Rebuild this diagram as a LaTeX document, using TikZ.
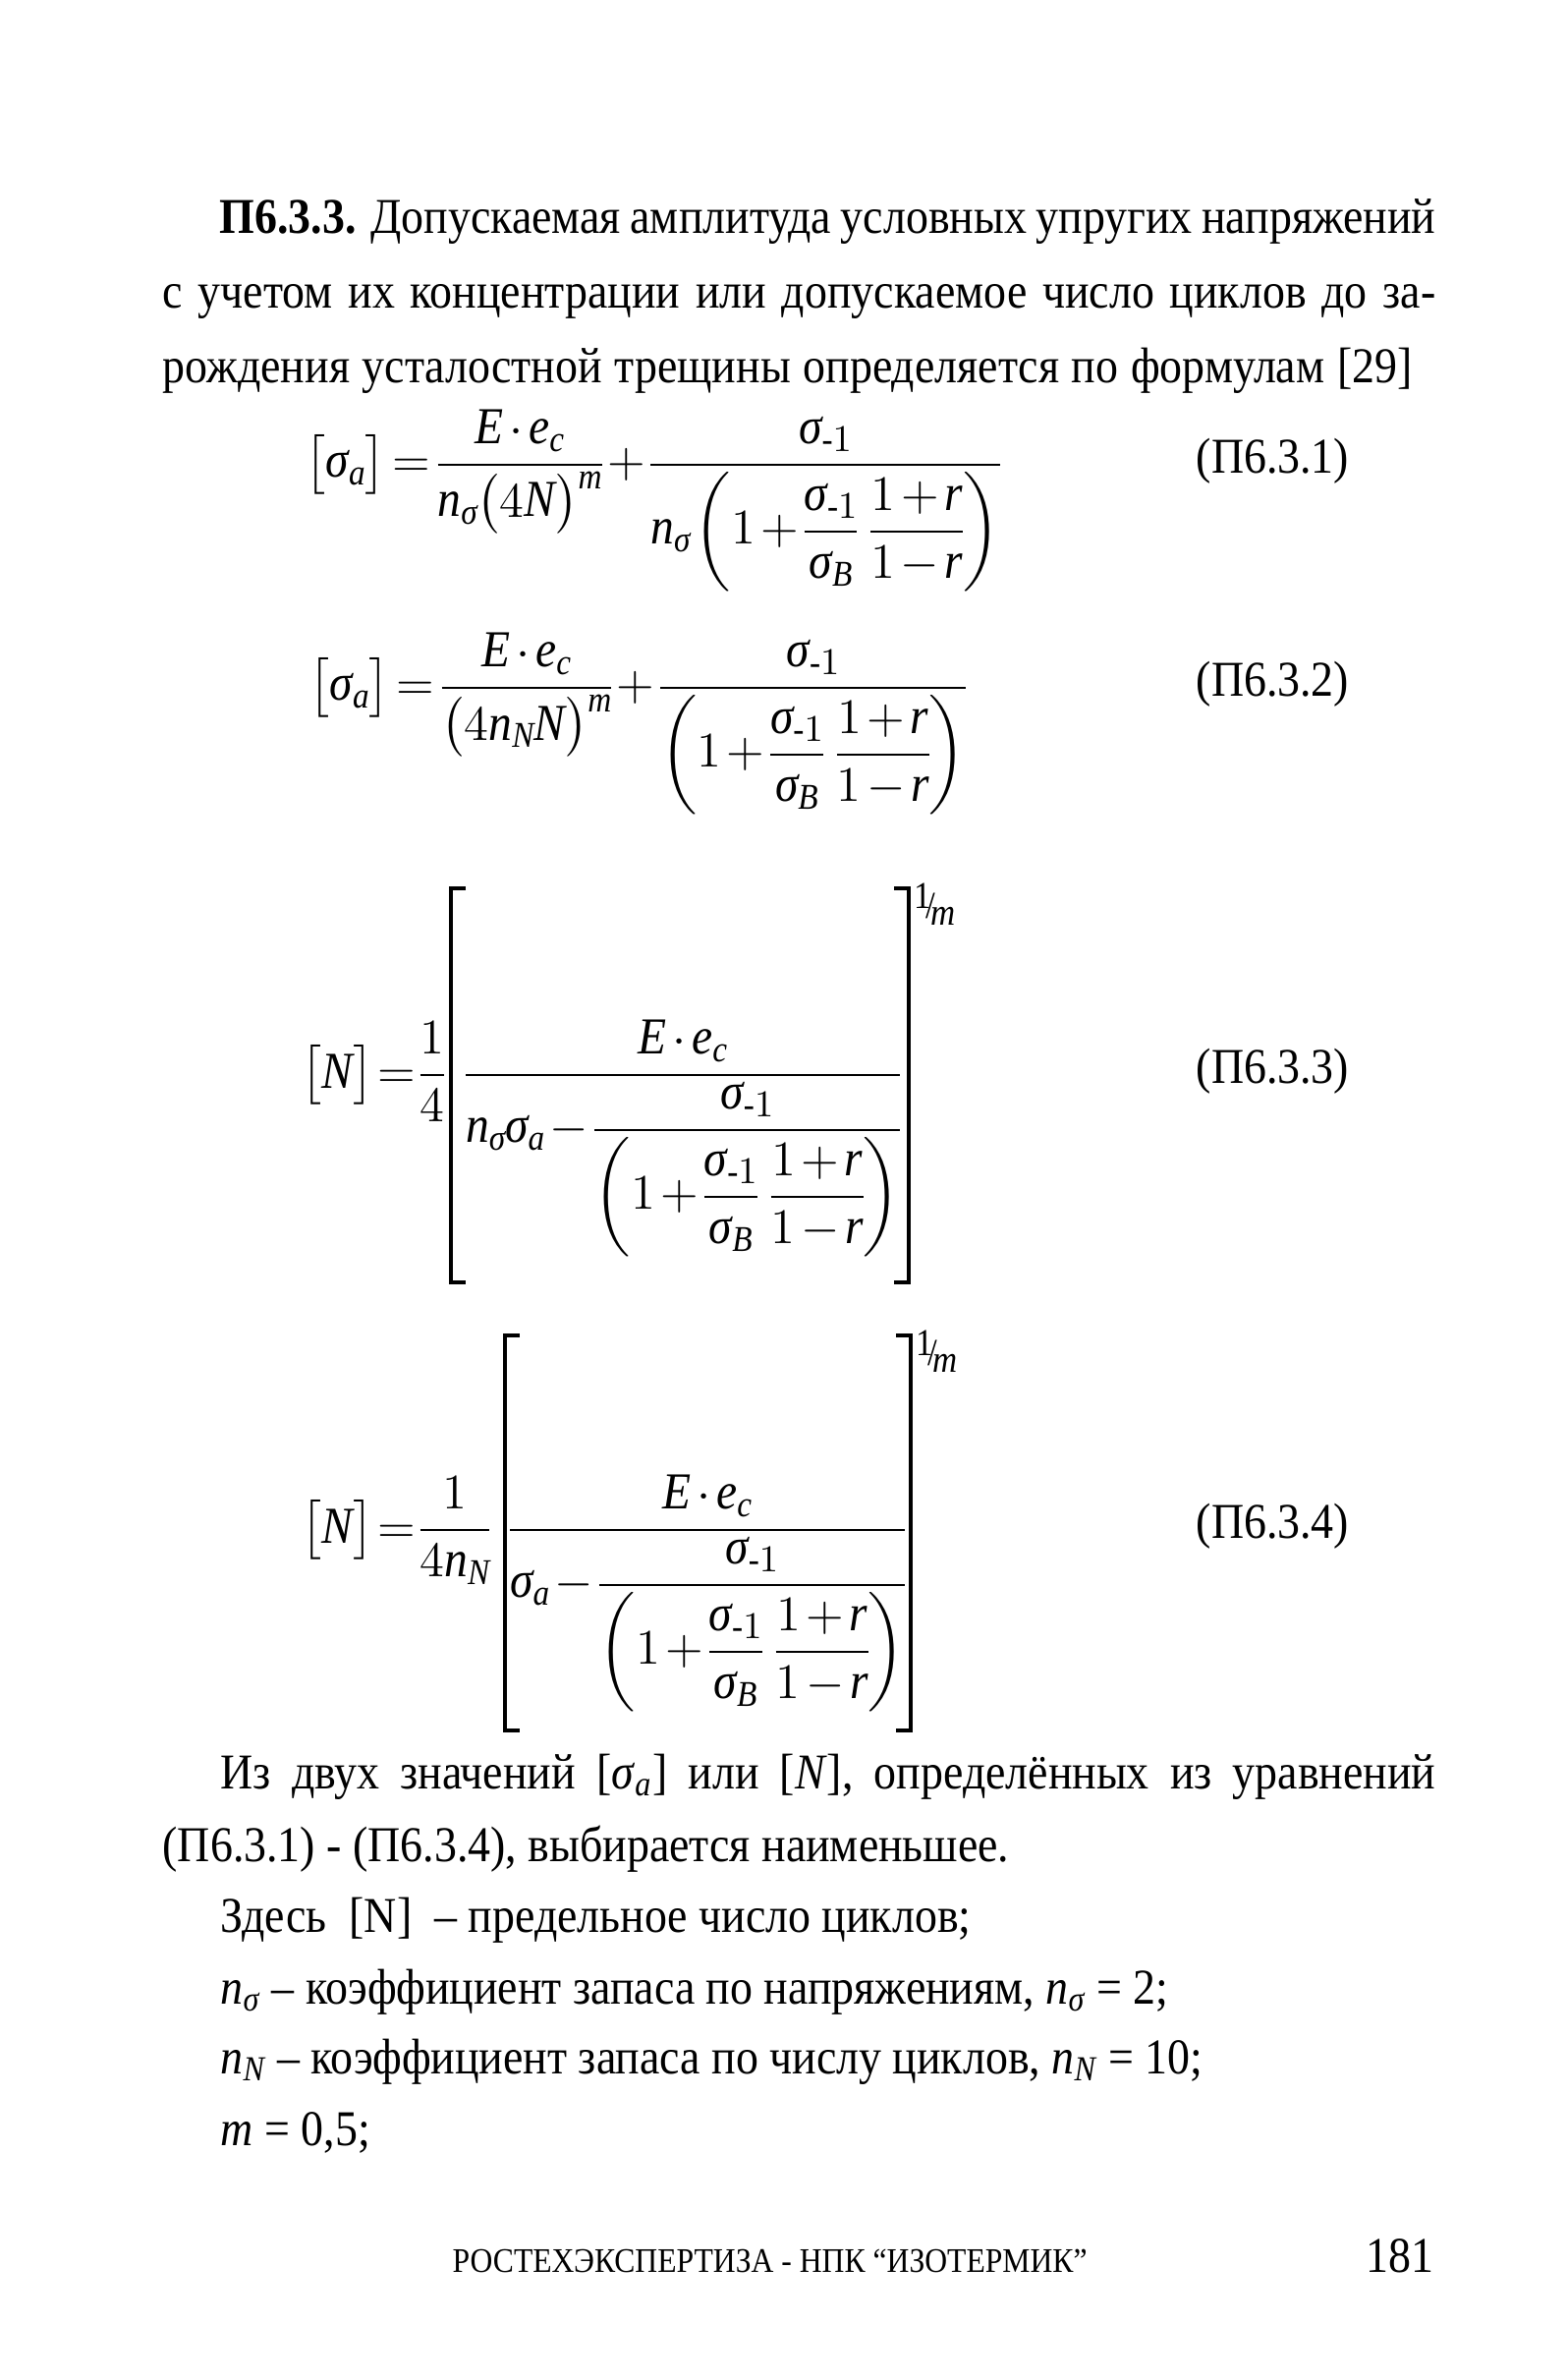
\documentclass[tikz,border=0pt]{standalone}
\usepackage{amsmath}
\usepackage{fontspec}
\setmainfont[FakeStretch=0.9]{Liberation Serif}
\newcommand{\mi}[1]{\textit{#1}}
\newcommand{\sg}{\mi{σ}}
\newcommand{\sgm}{\sg_{\text{-}1}}
\tikzset{
  txt/.style = {anchor=base west, inner sep=0pt,
                font=\fontsize{14.5}{17}\selectfont},
  eqn/.style = {inner sep=0pt, font=\fontsize{15}{18}\selectfont,
                execute at begin node={\thickmuskip=2.5mu\medmuskip=2mu\thinmuskip=1.5mu\nulldelimiterspace=0pt\scriptspace=0pt}},
  num/.style = {anchor=mid west, inner sep=0pt,
                font=\fontsize{14.5}{17}\selectfont},
  brk/.style = {line width=1.1pt}
}

\begin{document}
\begin{tikzpicture}[x=0.01cm, y=-0.01cm]
	\useasboundingbox (0,0) rectangle (1594,2422);
	\def \lx{165}  % left margin
	\def \ix{224}  % indent
	
	% Paragraph
	\node[txt] (l1) at (223,238) {\makebox[12.37cm][s]{\textbf{П6.3.3.} Допускаемая амплитуда условных упругих напряжений}};
	\node[txt] (l2) at (\lx,314) {\makebox[12.95cm][s]{с учетом их концентрации или допускаемое число циклов до за-}};
	\node[txt] (l3) at (\lx,390) {\makebox[12.71cm][s]{рождения усталостной трещины определяется по формулам [29]}};
	
	% (P6.3.1)
	\node[eqn, anchor=base west] (e1) at (310,486) {$\bigl[\sg_{\mi{a}}\bigr]=\dfrac{\mi{E}\cdot\mi{e}_{\mi{c}}}{\mi{n}_{\sg}\bigl(4\mi{N}\bigr)^{\mi{m}}}+\dfrac{\sgm}{\mi{n}_{\sg}\left(1+\dfrac{\sgm}{\sg_{\mi{B}}}\mkern5mu\dfrac{1+\mi{r}}{1-\mi{r}}\right)}$};
	\node[num] (n1) at (1217,473) {(П6.3.1)};
	
	% (P6.3.2)
	\node[eqn, anchor=base west] (e2) at (314,713) {$\bigl[\sg_{\mi{a}}\bigr]=\dfrac{\mi{E}\cdot\mi{e}_{\mi{c}}}{\bigl(4\mi{n}_{\mi{N}}\mi{N}\bigr)^{\mi{m}}}+\dfrac{\sgm}{\left(1+\dfrac{\sgm}{\sg_{\mi{B}}}\mkern5mu\dfrac{1+\mi{r}}{1-\mi{r}}\right)}$};
	\node[num] (n2) at (1217,700) {(П6.3.2)};
	
	% (P6.3.3)
	\node[eqn, anchor=base west] (e3a) at (306,1107) {$\bigl[\mi{N}\bigr]\mkern-1mu=\mkern-1mu\dfrac{1}{4}$};
	\draw[brk] (474,904) -- (459,904) -- (459,1305) -- (474,1305);
	\draw[brk] (910,904) -- (925,904) -- (925,1305) -- (910,1305);
	\node[eqn, anchor=base] (e3b) at (695,1107) {$\dfrac{\mi{E}\cdot\mi{e}_{\mi{c}}}{\mi{n}_{\sg}\sg_{\mi{a}}-\dfrac{\sgm}{\left(1+\dfrac{\sgm}{\sg_{\mi{B}}}\mkern5mu\dfrac{1+\mi{r}}{1-\mi{r}}\right)}}$};
	\node[eqn, anchor=north west, font=\fontsize{11}{11}\selectfont] (e3c) at (930,898) {\raisebox{3pt}{1}\hspace{-1.5pt}/\hspace{-1.5pt}\raisebox{-2pt}{\mi{m}}};
	\node[num] (n3) at (1217,1094) {(П6.3.3)};
	
	% (P6.3.4)
	\node[eqn, anchor=base west] (e4a) at (306,1570) {$\bigl[\mi{N}\bigr]\mkern-1mu=\mkern-1mu\dfrac{1}{4\mi{n}_{\mi{N}}}$};
	\draw[brk] (529,1359) -- (514,1359) -- (514,1761) -- (529,1761);
	\draw[brk] (912,1359) -- (927,1359) -- (927,1761) -- (912,1761);
	\node[eqn, anchor=base] (e4b) at (720,1570) {$\dfrac{\mi{E}\cdot\mi{e}_{\mi{c}}}{\sg_{\mi{a}}-\dfrac{\sgm}{\left(1+\dfrac{\sgm}{\sg_{\mi{B}}}\mkern5mu\dfrac{1+\mi{r}}{1-\mi{r}}\right)}}$};
	\node[eqn, anchor=north west, font=\fontsize{11}{11}\selectfont] (e4c) at (932,1353) {\raisebox{3pt}{1}\hspace{-1.5pt}/\hspace{-1.5pt}\raisebox{-2pt}{\mi{m}}};
	\node[num] (n4) at (1217,1557) {(П6.3.4)};
	
	% Text below
	\node[txt] (l4) at (\ix,1820) {\makebox[12.36cm][s]{Из двух значений [\sg$_{\mi{a}}$] или [\mi{N}], определённых из уравнений}};
	\node[txt] (l5) at (\lx,1894) {(П6.3.1) - (П6.3.4), выбирается наименьшее.};
	\node[txt] (l6) at (\ix,1966) {Здесь\ \ [N]\ \ – предельное число циклов;};
	\node[txt] (l7) at (\ix,2039) {\mi{n}$_{\sg}$ – коэффициент запаса по напряжениям, \mi{n}$_{\sg}$\ = 2;};
	\node[txt] (l8) at (\ix,2110) {\mi{n}$_{\mi{N}}$ – коэффициент запаса по числу циклов, \mi{n}$_{\mi{N}}$ = 10;};
	\node[txt] (l9) at (\ix,2183) {\mi{m} = 0,5;};
	
	% Footer
	\node[txt, font=\fontsize{10}{12}\selectfont] (foot) at (460,2312) {РОСТЕХЭКСПЕРТИЗА - НПК “ИЗОТЕРМИК”};
	\node[txt] (page) at (1390,2312) {181};
	
\end{tikzpicture}
\end{document}
